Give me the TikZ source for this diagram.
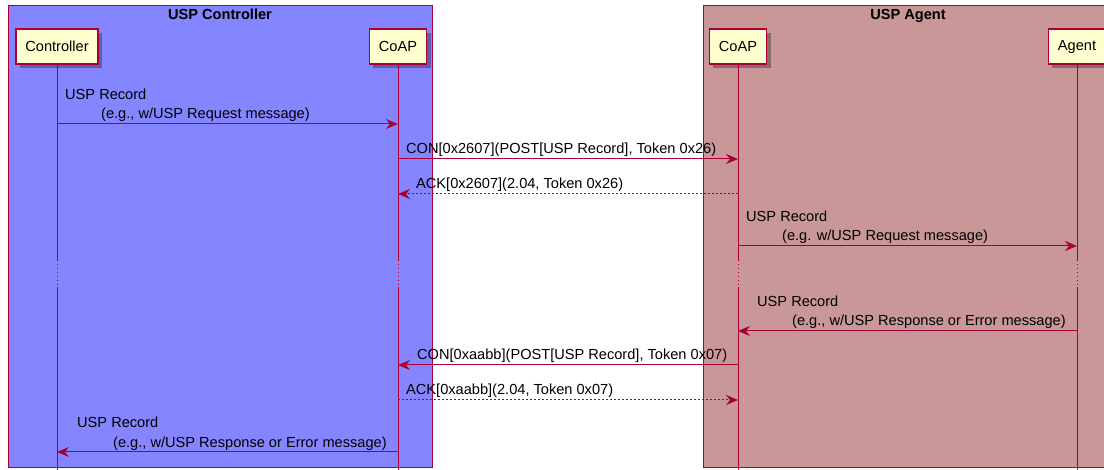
\documentclass[tikz,border=0pt]{standalone}
\usepackage{fontspec}
\setmainfont{Liberation Sans}
\usetikzlibrary{arrows.meta,shadows}
\definecolor{umlred}{HTML}{A80036}
\definecolor{ctlbox}{HTML}{8585FF}
\definecolor{agtbox}{HTML}{C99797}
\definecolor{partfill}{HTML}{FEFECE}
\tikzstyle{grupo}=[draw=umlred,line width=1pt]
\tikzstyle{titulo}=[font=\fontsize{14.6}{17}\selectfont\bfseries,anchor=base,inner sep=0pt]
\tikzstyle{parte}=[draw=umlred,fill=partfill,line width=1.5pt,minimum height=35pt,inner xsep=9.5pt,
  drop shadow={shadow xshift=4pt,shadow yshift=-4pt,fill=black,opacity=.3}]
\tikzstyle{vida}=[umlred,line width=1pt]
\tikzstyle{msg}=[umlred,line width=1pt,-{Stealth[length=12pt,width=10pt,inset=4pt]}]
\tikzstyle{resp}=[msg,dash pattern=on 2pt off 2pt]
\tikzstyle{texto}=[anchor=base west,inner sep=0pt]

\begin{document}
\begin{tikzpicture}[x=1pt,y=-1pt,font=\fontsize{14.6}{17}\selectfont]
    \useasboundingbox (0,0) rectangle (1104,470);
    \draw [grupo,fill=ctlbox] (8,6) rectangle (432,467);
    \draw [grupo,fill=agtbox] (703,6) rectangle (1108,467);
    \node [titulo] (tctl) at (220,20) {USP Controller};
    \node [titulo] (tagt) at (908,20) {USP Agent};
    \node [parte] (ctl) at (57,46.5) {Controller};
    \node [parte] (coapc) at (398,46.5) {CoAP};
    \node [parte] (coapa) at (738,46.5) {CoAP};
    \node [parte] (agt) at (1077,46.5) {Agent};
    \foreach \p in {ctl,coapc,coapa,agt} {
        \draw [vida] (\p.south) -- (\p |- 0,260);
        \draw [vida,dash pattern=on 1.5pt off 2.5pt] (\p |- 0,260) -- (\p |- 0,287);
        \draw [vida] (\p |- 0,287) -- (\p |- 0,470);
    }
    \draw [msg] (ctl |- 0,124) -- (coapc |- 0,124);
    \node [texto] (r1a) at (65,100) {USP Record};
    \node [texto] (r1b) at (101,119) {(e.g., w/USP Request message)};
    \draw [msg] (coapc |- 0,159) -- (coapa |- 0,159);
    \node [texto] (r2) at (406,154) {CON[0x2607](POST[USP Record], Token 0x26)};
    \draw [resp] (coapa |- 0,194) -- (coapc |- 0,194);
    \node [texto] (r3) at (416,189) {ACK[0x2607](2.04, Token 0x26)};
    \draw [msg] (coapa |- 0,246) -- (agt |- 0,246);
    \node [texto] (r4a) at (746,222) {USP Record};
    \node [texto] (r4b) at (782,241) {(e.g. w/USP Request message)};
    \draw [msg] (agt |- 0,331) -- (coapa |- 0,331);
    \node [texto] (r5a) at (757,307) {USP Record};
    \node [texto] (r5b) at (792,326) {(e.g., w/USP Response or Error message)};
    \draw [msg] (coapa |- 0,365) -- (coapc |- 0,365);
    \node [texto] (r6) at (417,360) {CON[0xaabb](POST[USP Record], Token 0x07)};
    \draw [resp] (coapc |- 0,400) -- (coapa |- 0,400);
    \node [texto] (r7) at (406,395) {ACK[0xaabb](2.04, Token 0x07)};
    \draw [msg] (coapc |- 0,452) -- (ctl |- 0,452);
    \node [texto] (r8a) at (77,428) {USP Record};
    \node [texto] (r8b) at (113,447) {(e.g., w/USP Response or Error message)};
\end{tikzpicture}
\end{document}
